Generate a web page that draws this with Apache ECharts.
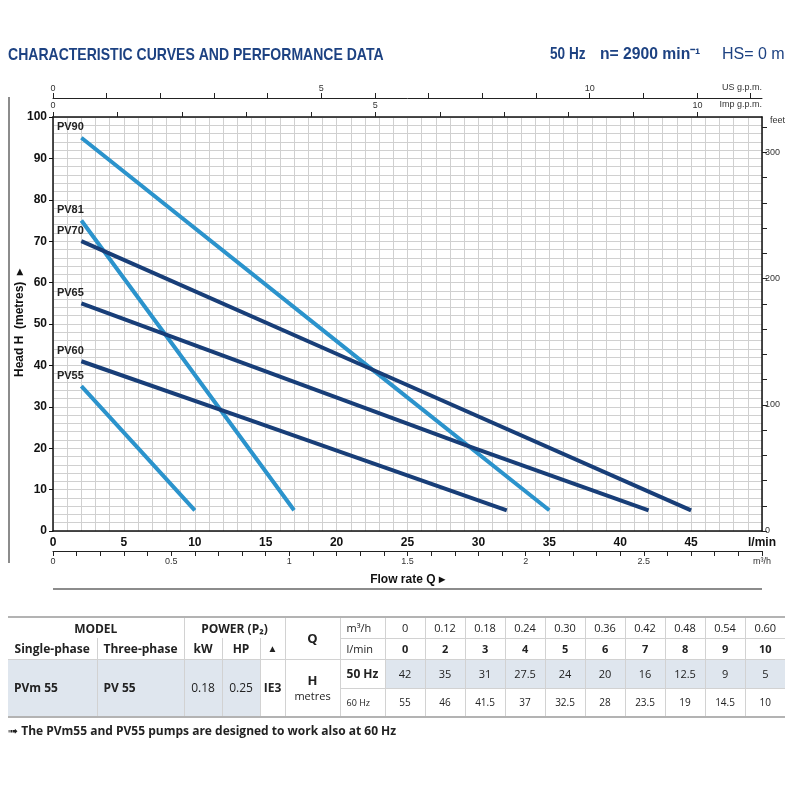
<!DOCTYPE html>
<html>
<head>
<meta charset="utf-8">
<title>Characteristic curves and performance data</title>
<script src="https://cdn.jsdelivr.net/npm/echarts@6.0.0/dist/echarts.min.js"></script>
<style>
    html, body { margin: 0; padding: 0; background: #fff; }
    #chart_box { position: absolute; left: 0; top: 0; width: 800px; height: 800px; }
    #data_table {
        position: absolute; left: 8px; top: 616px; width: 777px;
        border-collapse: collapse; table-layout: fixed;
        font-family: "Open Sans", "Noto Sans", sans-serif; color: #222;
        border-top: 2px solid #b3b3b3; border-bottom: 2px solid #b3b3b3;
    }
    #data_table td, #data_table th {
        padding: 0; text-align: center; vertical-align: middle;
        border: 1px solid #d2d2d2; font-size: 11px; font-weight: normal; white-space: nowrap;
    }
    #data_table tr.r1 { height: 21px; }
    #data_table tr.r2 { height: 21px; }
    #data_table tr.r3 { height: 29px; }
    #data_table tr.r4 { height: 29px; }
    #data_table th { font-weight: bold; font-size: 12px; }
    #data_table th.grp { border-bottom-style: hidden; }
    #data_table .first { border-left-style: hidden; }
    #data_table .last { border-right-style: hidden; }
    #data_table .shade { background: #dfe6ee; }
    #data_table .model { text-align: left; padding-left: 6px; font-weight: bold; font-size: 12px; }
    #data_table .big { font-weight: bold; font-size: 13px; }
    #data_table .bold { font-weight: bold; }
    #data_table .r4 td { font-size: 10px; }
    #data_table .small { font-size: 9px !important; text-align: left; padding-left: 6px; }
    #note {
        position: absolute; left: 8px; top: 722px;
        font-family: "Open Sans", "Noto Sans", "DejaVu Sans", sans-serif;
        font-weight: bold; font-size: 12px; color: #222;
    }
</style>
</head>
<body>
<div id="chart_box"></div>
<table id="data_table"></table>
<div id="note"></div>
<script>
(function() {

    // curves: [flow l/min, head m]
    var pv90 = [[2, 95], [22.7, 38.5], [35, 5]];
    var pv81 = [[2, 75], [7.8, 48], [17, 5]];
    var pv70 = [[2, 70], [22.7, 38.7], [45, 5]];
    var pv65 = [[2, 55], [29.2, 20.6], [42, 5]];
    var pv60 = [[2, 41], [13.9, 26.8], [32, 5]];
    var pv55 = [[2, 35], [6, 20], [10, 5]];

    // table data (PV55)
    var qM3h = ['0', '0.12', '0.18', '0.24', '0.30', '0.36', '0.42', '0.48', '0.54', '0.60'];
    var qLmin = [0, 2, 3, 4, 5, 6, 7, 8, 9, 10];
    var h50Hz = [42, 35, 31, 27.5, 24, 20, 16, 12.5, 9, 5];
    var h60Hz = [55, 46, 41.5, 37, 32.5, 28, 23.5, 19, 14.5, 10];

    var curveNames = ['PV90', 'PV81', 'PV70', 'PV65', 'PV60', 'PV55'];
    var curveData = [pv90, pv81, pv70, pv65, pv60, pv55];
    var curveColors = ['#2b93cc', '#2b93cc', '#183e78', '#183e78', '#183e78', '#2b93cc'];

    // axis ranges / unit conversions
    var lpmMax = 50;
    var headMax = 100;
    var m3hMax = lpmMax * 0.06;
    var usGpmMax = lpmMax / 3.785;
    var impGpmMax = lpmMax / 4.546;
    var feetMax = headMax * 3.2808;

    var sans = '"Liberation Sans", Arial, sans-serif';
    var titleBlue = '#1d4282';

    function keepEvery(step) {
        return function(v) {
            return Math.abs(v / step - Math.round(v / step)) < 1e-6 ? String(v) : '';
        };
    }

    var series = [];
    for (var k = 0; k < curveData.length; k++) {
        var pts = curveData[k].map(function(p, idx) {
            if (idx === 0) {
                return {
                    value: p,
                    label: {
                        show: true,
                        formatter: curveNames[k],
                        position: 'top',
                        offset: [-11, 0],
                        fontFamily: sans,
                        fontWeight: 'bold',
                        fontSize: 11,
                        color: '#222'
                    }
                };
            }
            return p;
        });
        series.push({
            name: curveNames[k],
            type: 'line',
            data: pts,
            symbol: 'circle',
            symbolSize: 0.1,
            showSymbol: true,
            lineStyle: { color: curveColors[k], width: 4 },
            itemStyle: { color: curveColors[k] },
            silent: true,
            z: 5
        });
    }

    function headerText(x, text, bold, size, sx) {
        return {
            type: 'text', x: x, y: 55, scaleX: sx,
            style: { text: text, fill: titleBlue, font: (bold ? 'bold ' : '') + size + 'px ' + sans, textVerticalAlign: 'middle' }
        };
    }

    var myChart = echarts.init(document.getElementById('chart_box'));
    myChart.setOption({
        animation: false,
        textStyle: { fontFamily: sans },
        grid: { left: 53, right: 38, top: 117, bottom: 269, containLabel: false, outerBoundsMode: 'none' },
        graphic: [
            headerText(8, 'CHARACTERISTIC CURVES AND PERFORMANCE DATA', true, 17, 0.825),
            headerText(550, '50 Hz', true, 16, 0.85),
            headerText(600, 'n= 2900 min\u207B\u00B9', true, 16, 0.98),
            headerText(722, 'HS= 0 m', false, 16, 1.0),
            {
                // y axis title
                type: 'text', x: 20, y: 323, rotation: Math.PI / 2,
                style: { text: 'Head H  (metres)  \u25B8', fill: '#111', font: 'bold 12px ' + sans, textAlign: 'center', textVerticalAlign: 'middle' }
            },
            { type: 'line', shape: { x1: 9, y1: 97, x2: 9, y2: 563 }, style: { stroke: '#666', lineWidth: 1.5 } },
            { type: 'line', shape: { x1: 53, y1: 589, x2: 762, y2: 589 }, style: { stroke: '#666', lineWidth: 1.5 } }
        ],
        xAxis: [{
            // l/min
            type: 'value', position: 'bottom', min: 0, max: lpmMax, interval: 5,
            axisLine: { onZero: false, lineStyle: { color: '#111', width: 1.5 } },
            axisTick: { show: false },
            splitLine: { show: false },
            axisLabel: {
                margin: 6, fontWeight: 'bold', fontSize: 12, color: '#111',
                formatter: function(v) { return v === lpmMax ? 'l/min' : v; }
            }
        }, {
            // m3/h
            type: 'value', position: 'bottom', offset: 20, min: 0, max: m3hMax, interval: 0.5,
            axisLine: { onZero: false, lineStyle: { color: '#222', width: 1 } },
            axisTick: { length: 5, lineStyle: { color: '#222' } },
            minorTick: { show: true, splitNumber: 5, length: 5, lineStyle: { color: '#222' } },
            splitLine: { show: false },
            axisLabel: {
                margin: 6, fontSize: 9, color: '#333',
                formatter: function(v) { return v === m3hMax ? 'm\u00B3/h' : v; }
            },
            name: 'Flow rate Q \u25B8', nameLocation: 'middle', nameGap: 23, nameMoveOverlap: false,
            nameTextStyle: { fontWeight: 'bold', fontSize: 12, color: '#111' }
        }, {
            // US g.p.m.
            type: 'value', position: 'top', offset: 19, min: 0, max: usGpmMax, interval: 1,
            axisLine: { onZero: false, lineStyle: { color: '#222', width: 1 } },
            axisTick: { length: 5, lineStyle: { color: '#222' } },
            splitLine: { show: false },
            axisLabel: { margin: 5, fontSize: 9, color: '#333', formatter: keepEvery(5), showMaxLabel: false },
            name: 'US g.p.m.', nameLocation: 'end', nameGap: 0, nameMoveOverlap: false,
            nameTextStyle: { fontSize: 9, color: '#333', align: 'right', verticalAlign: 'bottom', padding: [0, 0, 6, 0] }
        }, {
            // Imp g.p.m.
            type: 'value', position: 'top', offset: 0, min: 0, max: impGpmMax, interval: 1,
            axisLine: { onZero: false, lineStyle: { color: '#111', width: 1.5 } },
            axisTick: { length: 5, lineStyle: { color: '#222' } },
            splitLine: { show: false },
            axisLabel: { margin: 7, fontSize: 9, color: '#333', formatter: keepEvery(5), showMaxLabel: false },
            name: 'Imp g.p.m.', nameLocation: 'end', nameGap: 0, nameMoveOverlap: false,
            nameTextStyle: { fontSize: 9, color: '#333', align: 'right', verticalAlign: 'bottom', padding: [0, 0, 8, 0] }
        }, {
            // vertical grid lines
            type: 'value', position: 'bottom', min: 0, max: lpmMax, interval: 1,
            axisLine: { show: false, onZero: false }, axisTick: { show: false }, axisLabel: { show: false },
            splitLine: { show: true, lineStyle: { color: '#d0d0d0', width: 1 } }
        }],
        yAxis: [{
            type: 'value', position: 'left', min: 0, max: headMax, interval: 10,
            axisLine: { show: true, onZero: false, lineStyle: { color: '#111', width: 1.5 } },
            axisTick: { show: true, length: 4, lineStyle: { color: '#111' } },
            splitLine: { show: false },
            axisLabel: { margin: 6, fontWeight: 'bold', fontSize: 12, color: '#111' }
        }, {
            // feet
            type: 'value', position: 'right', min: 0, max: feetMax, interval: 20,
            axisLine: { show: true, onZero: false, lineStyle: { color: '#111', width: 1.5 } },
            axisTick: { show: true, length: 5, lineStyle: { color: '#222' } },
            splitLine: { show: false },
            axisLabel: { margin: 3, fontSize: 9, color: '#333', formatter: keepEvery(100), showMaxLabel: false },
            name: 'feet', nameLocation: 'end', nameGap: -4, nameMoveOverlap: false,
            nameTextStyle: { fontSize: 9, color: '#333', align: 'left', verticalAlign: 'middle', padding: [0, 0, 0, 8] }
        }, {
            // horizontal grid lines
            type: 'value', position: 'left', min: 0, max: headMax, interval: 2,
            axisLine: { show: false, onZero: false }, axisTick: { show: false }, axisLabel: { show: false },
            splitLine: { show: true, lineStyle: { color: '#d0d0d0', width: 1 } }
        }],
        series: series
    });

    // performance table
    var html = '';
    html += '<colgroup><col style="width:89px"><col style="width:87px"><col style="width:38px"><col style="width:38px">' +
        '<col style="width:25px"><col style="width:55px"><col style="width:45px">';
    for (var c = 0; c < qM3h.length; c++) html += '<col style="width:40px">';
    html += '</colgroup>';

    html += '<tr class="r1"><th colspan="2" class="grp first">MODEL</th><th colspan="3" class="grp">POWER (P\u2082)</th>' +
        '<th rowspan="2" class="big">Q</th><td style="text-align:left;padding-left:6px">m\u00B3/h</td>';
    for (c = 0; c < qM3h.length; c++) html += '<td' + (c === qM3h.length - 1 ? ' class="last"' : '') + '>' + qM3h[c] + '</td>';
    html += '</tr>';

    html += '<tr class="r2"><th class="first">Single-phase</th><th>Three-phase</th><th>kW</th><th>HP</th><th style="font-size:10px">\u25B2</th>' +
        '<td style="text-align:left;padding-left:6px">l/min</td>';
    for (c = 0; c < qLmin.length; c++) html += '<td class="bold' + (c === qLmin.length - 1 ? ' last' : '') + '">' + qLmin[c] + '</td>';
    html += '</tr>';

    html += '<tr class="r3"><td rowspan="2" class="model shade first">PVm 55</td><td rowspan="2" class="model shade">PV 55</td>' +
        '<td rowspan="2" class="shade" style="font-size:12px">0.18</td><td rowspan="2" class="shade" style="font-size:12px">0.25</td>' +
        '<td rowspan="2" class="bold" style="font-size:12px">IE3</td>' +
        '<td rowspan="2" style="line-height:15px"><span class="big">H</span><br>metres</td>' +
        '<td class="bold" style="font-size:12px;text-align:left;padding-left:6px">50 Hz</td>';
    for (c = 0; c < h50Hz.length; c++) html += '<td class="shade' + (c === h50Hz.length - 1 ? ' last' : '') + '">' + h50Hz[c] + '</td>';
    html += '</tr>';

    html += '<tr class="r4"><td class="small">60 Hz</td>';
    for (c = 0; c < h60Hz.length; c++) html += '<td' + (c === h60Hz.length - 1 ? ' class="last"' : '') + '>' + h60Hz[c] + '</td>';
    html += '</tr>';

    document.getElementById('data_table').innerHTML = html;
    document.getElementById('note').innerHTML = '<span style="font-family:\'DejaVu Sans\';font-size:12px">\u279F</span> The PVm55 and PV55 pumps are designed to work also at 60 Hz';
})();
</script>
</body>
</html>
